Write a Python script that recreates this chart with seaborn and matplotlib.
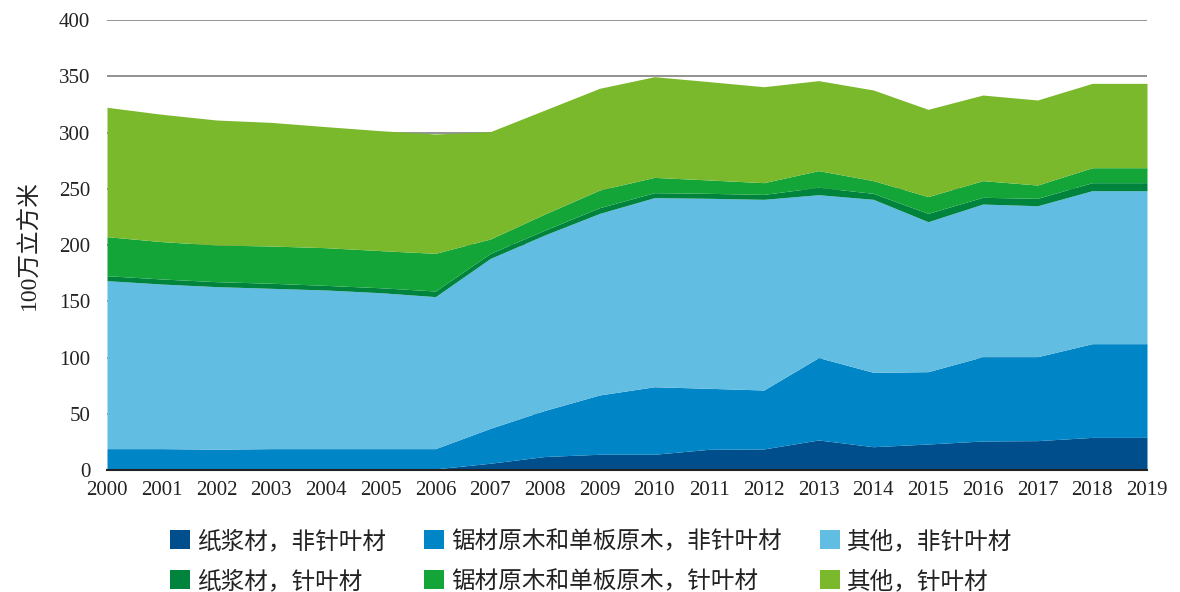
import matplotlib
matplotlib.use("Agg")
import matplotlib.pyplot as plt
import seaborn as sns
import pandas as pd
from matplotlib.patches import Patch

years = list(range(2000, 2020))

# 100万立方米, 从下到上堆叠
pulp_nonconifer = [1.0, 1.0, 1.0, 1.0, 1.0, 1.0, 1.0, 6.0, 12.0, 14.0,
                   14.0, 18.4, 18.7, 26.7, 20.7, 23.1, 25.8, 26.1, 29.0, 29.0]
saw_nonconifer = [18.0, 18.0, 17.5, 18.0, 18.0, 18.0, 18.0, 31.0, 41.0, 52.7,
                  60.0, 54.2, 52.4, 73.2, 66.1, 64.3, 74.9, 74.6, 83.3, 83.3]
other_nonconifer = [149.3, 146.3, 144.5, 142.5, 141.0, 138.6, 135.1, 151.0, 156.0, 161.4,
                    168.1, 168.9, 169.5, 144.8, 153.8, 133.3, 135.7, 134.2, 136.0, 136.0]
pulp_conifer = [4.4, 4.5, 4.4, 4.5, 4.1, 4.4, 5.0, 4.5, 4.3, 5.1,
                4.4, 4.4, 4.4, 6.6, 5.3, 7.4, 6.0, 6.6, 7.1, 7.1]
saw_conifer = [34.7, 33.2, 32.6, 33.1, 33.5, 33.0, 33.5, 12.8, 14.3, 15.7,
               13.6, 11.9, 10.4, 14.8, 11.3, 14.9, 14.8, 11.8, 13.3, 13.3]
other_conifer = [115.0, 113.2, 111.1, 109.9, 107.6, 106.6, 106.1, 95.4, 92.4, 90.4,
                 89.5, 87.4, 85.3, 80.0, 80.6, 77.6, 76.1, 75.6, 75.0, 75.0]

labels = ["纸浆材，非针叶材", "锯材原木和单板原木，非针叶材", "其他，非针叶材",
          "纸浆材，针叶材", "锯材原木和单板原木，针叶材", "其他，针叶材"]
colors = ["#004e8c", "#0085c7", "#62bde2", "#00843d", "#13a538", "#7ab82c"]

df = pd.DataFrame({
    "年份": years,
    labels[0]: pulp_nonconifer,
    labels[1]: saw_nonconifer,
    labels[2]: other_nonconifer,
    labels[3]: pulp_conifer,
    labels[4]: saw_conifer,
    labels[5]: other_conifer,
})

sns.set_style("white")
plt.rcParams['font.family'] = ['Liberation Serif', 'Noto Sans CJK SC', 'DejaVu Sans']

fig = plt.figure(figsize=(11.8, 5.92), dpi=100)
ax = fig.add_axes([107 / 1180, 1 - 470 / 592, 1040 / 1180, 450 / 592])

ax.stackplot(df["年份"], [df[c] for c in labels], colors=colors, linewidth=0)

ax.set_xlim(2000, 2019)
ax.set_ylim(0, 400)
ax.set_xticks(years)
ax.set_xticklabels([str(y) for y in years], fontsize=15, color="#222222")
ax.set_yticks(range(0, 401, 50))
ax.tick_params(axis="y", length=0, pad=12, labelsize=15, labelcolor="#222222")
ax.tick_params(axis="x", direction="out", length=5, width=1, color="#333333", pad=3)

ax.set_axisbelow(True)
ax.yaxis.grid(True, color="#7f7f7f", linewidth=1.2)
ax.xaxis.grid(False)
for side in ["left", "right", "top"]:
    ax.spines[side].set_visible(False)
ax.spines["bottom"].set_color("#222222")
ax.spines["bottom"].set_linewidth(1.5)

ax.set_ylabel("100万立方米", fontsize=17, family=['Liberation Serif', 'Noto Sans CJK SC'],
              labelpad=14, color="#222222")

# 图例：按列排列，使每行分别为非针叶材 / 针叶材
order = [0, 3, 1, 4, 2, 5]
handles = [Patch(facecolor=colors[i], edgecolor="none") for i in order]
fig.legend(handles, [labels[i] for i in order], ncol=3, frameon=False,
           loc="upper left", bbox_to_anchor=(170 / 1180, 1 - 530 / 592),
           prop={"family": "Noto Sans CJK SC", "size": 17},
           handlelength=0.85, handleheight=0.85, handletextpad=0.3,
           columnspacing=1.6, labelspacing=0.72, borderpad=0, borderaxespad=0,
           labelcolor="#222222")

fig.savefig("out.png", dpi=100)
